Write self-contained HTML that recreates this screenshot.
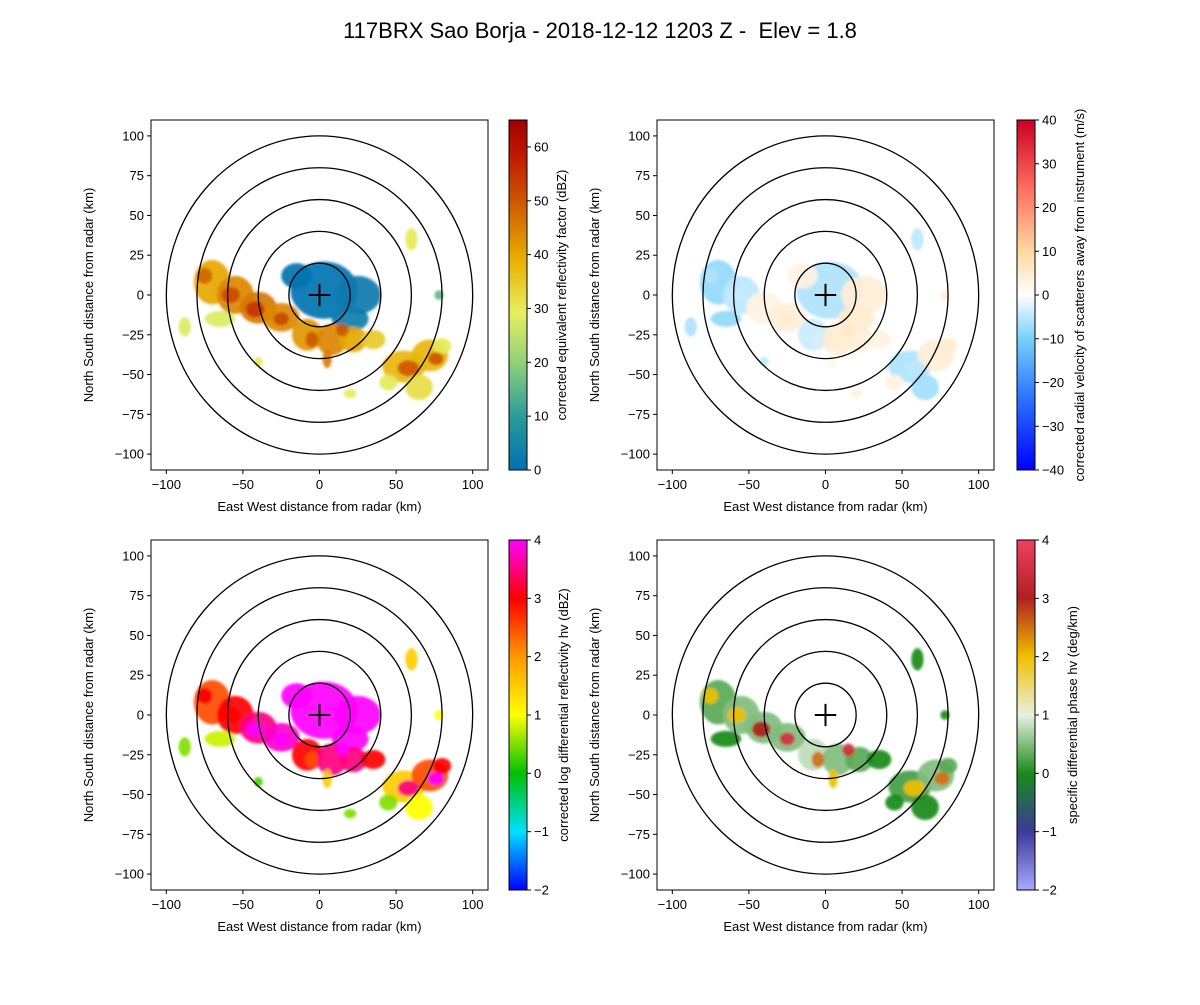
<!DOCTYPE html>
<html><head><meta charset="utf-8"><style>
body{margin:0;background:#fff;}
svg text{font-family:"Liberation Sans",sans-serif;fill:#000;}
</style></head><body>
<svg id="fig" width="1200" height="1000" viewBox="0 0 1200 1000" xmlns="http://www.w3.org/2000/svg">
<rect width="1200" height="1000" fill="#fff"/>
<text x="600" y="38" font-size="22" text-anchor="middle" style="white-space:pre">117BRX Sao Borja - 2018-12-12 1203 Z -  Elev = 1.8</text>
<defs><filter id="soft"><feGaussianBlur stdDeviation="1.2"/></filter></defs>
</svg>
<script>
// echo geometry (km): centers and radii
const blobCx=[3,-15,25,20,-70,-55,-40,-25,-8,8,22,35,-65,55,72,65,45,80,-88,60,78,20,-40,-58,-42,-25,-5,15,58,76,-75,5];
const blobCy=[3,12,0,-15,8,0,-8,-14,-25,-28,-28,-28,-15,-45,-38,-58,-55,-32,-20,35,0,-62,-42,0,-9,-15,-28,-22,-46,-40,12,-40];
const blobRx=[22,10,15,12,12,12,12,12,10,10,9,8,10,14,12,9,6,6,4,4,3,4,3,6,6,5,4,4,7,5,5,3];
const blobRy=[18,8,12,8,14,12,10,9,10,10,8,6,5,10,10,8,5,5,6,7,3,3,3,5,5,4,5,4,5,4,5,6];
// per-panel values
const reflValues=[1,1,2,3,40,44,46,44,42,44,40,35,28,38,38,32,30,30,28,30,15,30,30,52,55,52,50,50,50,50,48,45];
const velValues=[-6,3,4,5,-8,-5,3,4,-4,5,4,3,-8,-6,4,-7,3,5,-6,-5,4,3,-5,-4,3,5,-3,6,-5,4,-6,2];
const zdrValues=[4,4,4,4,2.5,3,3.5,3.8,3,3.5,3.5,3,0.8,1.5,2.5,1,0.5,3,0.5,1.5,1,0.5,0.3,3,4,4,2.5,4,3.5,4,3,1.5];
const kdpValues=[null,null,null,null,0.3,0.5,0.5,0.5,0.8,0.5,0.3,0,0,0.2,0.5,0,0,0.3,null,0,0,null,null,2,3,3.5,2.5,3.5,2,2.5,2,2];
const axisTicks=[-100,-75,-50,-25,0,25,50,75,100];
const xTickVals=[-100,-50,0,50,100];
const ringRadii=[20,40,60,80,100];

const cmaps={
 refl:[[0,'#0070b4'],[0.15,'#2a9a9a'],[0.3,'#8ccf7a'],[0.45,'#e6ef60'],[0.6,'#e8b000'],[0.75,'#d06000'],[0.9,'#c01800'],[1,'#a00000']],
 vel:[[0,'#0000ff'],[0.2,'#2a70ff'],[0.375,'#78d0f8'],[0.5,'#ffffff'],[0.625,'#ffd8a0'],[0.8,'#ff7060'],[1,'#cc0022']],
 zdr:[[0,'#0000ff'],[0.1667,'#00e0ff'],[0.3333,'#00c000'],[0.5,'#ffff00'],[0.6667,'#ff9900'],[0.8333,'#ff0000'],[1,'#ff00ff']],
 kdp:[[0,'#a8a8ff'],[0.1667,'#3a3a9a'],[0.3333,'#1a8a1a'],[0.5,'#e8f0e0'],[0.6667,'#f0c000'],[0.8333,'#b02020'],[1,'#f04060']]
};
function hex(c){return [parseInt(c.substr(1,2),16),parseInt(c.substr(3,2),16),parseInt(c.substr(5,2),16)];}
function cmapColor(name,t){const s=cmaps[name];t=Math.max(0,Math.min(1,t));
 for(let i=1;i<s.length;i++){if(t<=s[i][0]){const a=hex(s[i-1][1]),b=hex(s[i][1]);const f=(t-s[i-1][0])/(s[i][0]-s[i-1][0]);
 return 'rgb('+a.map((v,k)=>Math.round(v+(b[k]-v)*f)).join(',')+')';}}return s[s.length-1][1];}

const NS='http://www.w3.org/2000/svg';
const svg=document.getElementById('fig');
function mk(tag,attrs,parent){const e=document.createElementNS(NS,tag);for(const k in attrs)e.setAttribute(k,attrs[k]);(parent||svg).appendChild(e);return e;}

const panels=[
 {key:'refl',L:151,T:120,vals:reflValues,vmin:0,vmax:65,cbX:509,cbTicks:[0,10,20,30,40,50,60],label:'corrected equivalent reflectivity factor (dBZ)',lx:566},
 {key:'vel',L:657,T:120,vals:velValues,vmin:-40,vmax:40,cbX:1017,cbTicks:[-40,-30,-20,-10,0,10,20,30,40],label:'corrected radial velocity of scatterers away from instrument (m/s)',lx:1084},
 {key:'zdr',L:151,T:540,vals:zdrValues,vmin:-2,vmax:4,cbX:509,cbTicks:[-2,-1,0,1,2,3,4],label:'corrected log differential reflectivity hv (dBZ)',lx:568},
 {key:'kdp',L:657,T:540,vals:kdpValues,vmin:-2,vmax:4,cbX:1017,cbTicks:[-2,-1,0,1,2,3,4],label:'specific differential phase hv (deg/km)',lx:1077}
];
const W=337,H=350;
panels.forEach(p=>{
 const g=mk('g',{});
 
 
 const xs=v=>p.L+(v+110)/220*W, ys=v=>p.T+(110-v)/220*H;
 const kx=W/220, ky=H/220;
 const marks=mk('g',{filter:'url(#soft)'},g);
 
 
 for(let i=0;i<blobCx.length;i++){
  const v=p.vals[i]; if(v===null||v===undefined) continue;
  const e=mk('ellipse',{cx:xs(blobCx[i]),cy:ys(blobCy[i]),rx:blobRx[i]*kx,ry:blobRy[i]*ky,fill:cmapColor(p.key,(v-p.vmin)/(p.vmax-p.vmin)),opacity:0.92},marks);
  
  
 }
 ringRadii.forEach(r=>{const c=mk('ellipse',{cx:xs(0),cy:ys(0),rx:r*kx,ry:r*ky,fill:'none',stroke:'#000','stroke-width':1.3},g);
  
  });
 const cr=mk('path',{d:`M${xs(-7)},${ys(0)}H${xs(7)}M${xs(0)},${ys(7)}V${ys(-7)}`,stroke:'#000','stroke-width':2,fill:'none'},g);
 
 
 const fr=mk('rect',{x:p.L,y:p.T,width:W,height:H,fill:'none',stroke:'#000','stroke-width':1},g);
 
 
 xTickVals.forEach(v=>{mk('line',{x1:xs(v),x2:xs(v),y1:p.T+H,y2:p.T+H+4,stroke:'#000'},g);
  const t=mk('text',{x:xs(v),y:p.T+H+19,'font-size':13,'text-anchor':'middle'},g);t.textContent=(v<0?'\u2212':'')+Math.abs(v);
  
  });
 axisTicks.forEach(v=>{mk('line',{x1:p.L-4,x2:p.L,y1:ys(v),y2:ys(v),stroke:'#000'},g);
  const t=mk('text',{x:p.L-7,y:ys(v)+4.5,'font-size':13,'text-anchor':'end'},g);t.textContent=(v<0?'\u2212':'')+Math.abs(v);
  
  });
 const xl=mk('text',{x:p.L+W/2,y:p.T+H+41,'font-size':13,'text-anchor':'middle'},g);xl.textContent='East West distance from radar (km)';
 
 
 const yl=mk('text',{x:0,y:0,'font-size':13,'text-anchor':'middle',transform:`translate(${p.L-58},${p.T+H/2}) rotate(-90)`},g);yl.textContent='North South distance from radar (km)';
 
 
 const gid='grad-'+p.key;
 const lg=mk('linearGradient',{id:gid,x1:0,y1:1,x2:0,y2:0},svg.querySelector('defs'));
 cmaps[p.key].forEach(s=>mk('stop',{offset:s[0],'stop-color':s[1]},lg));
 const cb=mk('rect',{x:p.cbX,y:p.T,width:18,height:H,fill:`url(#${gid})`,stroke:'#000','stroke-width':1},g);
 
 
 p.cbTicks.forEach(v=>{const y=p.T+H-(v-p.vmin)/(p.vmax-p.vmin)*H;
  mk('line',{x1:p.cbX+18,x2:p.cbX+22,y1:y,y2:y,stroke:'#000'},g);
  const t=mk('text',{x:p.cbX+25,y:y+4.5,'font-size':13},g);t.textContent=(v<0?'\u2212':'')+Math.abs(v);
  
  });
 const cl=mk('text',{x:0,y:0,'font-size':13,'text-anchor':'middle',transform:`translate(${p.lx},${p.T+H/2}) rotate(-90)`},g);cl.textContent=p.label;
 
 
});
</script>
</body></html>
